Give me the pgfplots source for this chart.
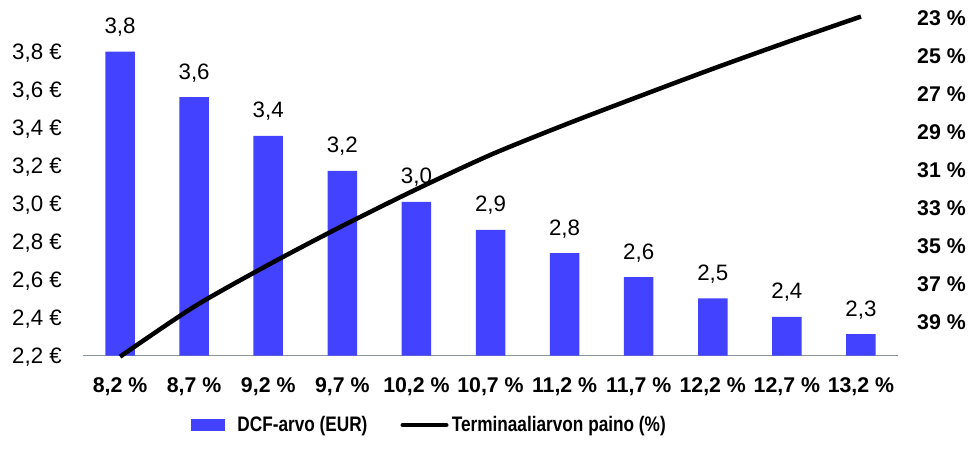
\documentclass[border=0pt]{standalone}
\usepackage{fontspec}
\setmainfont{Liberation Sans}
\newfontfamily\legfont[FakeStretch=0.82]{Liberation Sans}
\usepackage{pgfplots}
\pgfplotsset{compat=1.18}

\definecolor{barblue}{RGB}{66,66,255}
\definecolor{basegray}{RGB}{140,148,155}

\newcommand{\lbl}{\fontsize{22.3}{26}\selectfont}
\newcommand{\blbl}{\fontsize{21.3}{25}\selectfont\bfseries}

\begin{document}
\begin{tikzpicture}
% left axis: DCF value bars
\begin{axis}[
    scale only axis,
    width=815pt, height=342pt,
    xmin=-0.5, xmax=10.5,
    ymin=2.2, ymax=4.0,
    axis x line*=bottom,
    axis y line*=left,
    y axis line style={draw=none},
    x axis line style={draw=basegray, line width=1.6pt},
    major tick length=0pt,
    xtick={0,...,10},
    xticklabels={{8,2 \%},{8,7 \%},{9,2 \%},{9,7 \%},{10,2 \%},{10,7 \%},{11,2 \%},{11,7 \%},{12,2 \%},{12,7 \%},{13,2 \%}},
    xticklabel style={font=\blbl, anchor=center, inner sep=0pt, text height=15pt, text depth=0pt, yshift=-29pt},
    ytick={2.2,2.4,...,3.81},
    yticklabels={{2,2 €},{2,4 €},{2,6 €},{2,8 €},{3,0 €},{3,2 €},{3,4 €},{3,6 €},{3,8 €}},
    yticklabel style={font=\lbl, anchor=east, inner sep=0pt, text height=15.5pt, text depth=0pt, xshift=-21pt},
    ybar, bar width=29.5pt,
    nodes near coords,
    point meta=explicit symbolic,
    every node near coord/.append style={font=\lbl, anchor=base, inner sep=0pt, yshift=18pt, text=black},
    clip=false,
]
\addplot[fill=barblue, draw=none] coordinates {
    (0,3.800) [3,8]
    (1,3.561) [3,6]
    (2,3.357) [3,4]
    (3,3.173) [3,2]
    (4,3.009) [3,0]
    (5,2.862) [2,9]
    (6,2.740) [2,8]
    (7,2.613) [2,6]
    (8,2.502) [2,5]
    (9,2.404) [2,4]
    (10,2.313) [2,3]
};
\end{axis}

% right axis: terminal value weight (reversed)
\begin{axis}[
    scale only axis,
    width=815pt, height=342pt,
    xmin=-0.5, xmax=10.5,
    ymin=23, ymax=41,
    y dir=reverse,
    axis x line=none,
    axis y line*=right,
    y axis line style={draw=none},
    major tick length=0pt,
    ytick={23,25,...,39},
    yticklabels={{23 \%},{25 \%},{27 \%},{29 \%},{31 \%},{33 \%},{35 \%},{37 \%},{39 \%}},
    yticklabel style={font=\blbl, anchor=west, inner sep=0pt, text height=15pt, text depth=0pt, xshift=19pt, yshift=-4pt},
    clip=false,
    legend columns=2,
    legend style={draw=none, fill=none, inner sep=0pt, outer sep=0pt,
        at={(0.1325,-0.2026)}, anchor=west,
        font=\legfont\bfseries\fontsize{21}{25}\selectfont,
        nodes={inner sep=0pt},
        /tikz/every even column/.append style={column sep=33pt}},
]
\addlegendimage{legend image code/.code={
    \fill[barblue] (0pt,-5.5pt) rectangle (33pt,5.5pt);
    \path (46pt,0pt);}}
\addlegendentry{DCF-arvo (EUR)}
\addplot[black, line width=4.5pt, smooth, tension=0.45,
    legend image code/.code={
        \draw[black, line width=4pt, line cap=round] (2pt,0pt) -- (46pt,0pt);
        \path (49pt,0pt);}] coordinates {
    (0,41.05)
    (1,38.42)
    (2,36.22)
    (3,34.17)
    (4,32.24)
    (5,30.43)
    (6,28.85)
    (7,27.36)
    (8,25.90)
    (9,24.50)
    (10,23.15)
};
\addlegendentry{Terminaaliarvon paino (\%)}
\end{axis}

\pgfresetboundingbox
\path[use as bounding box] (-83pt,-93.3pt) rectangle (888pt,355.7pt);
\end{tikzpicture}
\end{document}
